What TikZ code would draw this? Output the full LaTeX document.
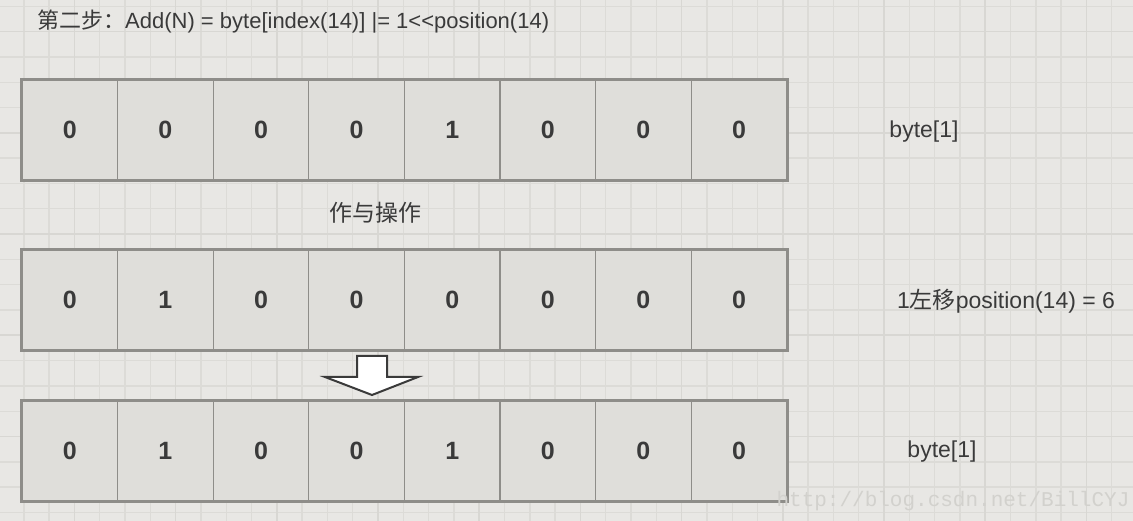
\documentclass[tikz,border=0pt]{standalone}
\usepackage{fontspec}
\setmainfont{Liberation Sans}
\setmonofont{Liberation Mono}
\newfontfamily\cjk{Noto Sans CJK SC}
\usetikzlibrary{positioning}

\definecolor{paper}{HTML}{E8E7E4}
\definecolor{minor line}{HTML}{DCDBD7}
\definecolor{major line}{HTML}{D8D7D3}
\definecolor{cell area}{HTML}{DFDEDA}
\definecolor{cell edge}{HTML}{8E8D89}
\definecolor{ink}{HTML}{3A3A3A}
\definecolor{mark ink}{HTML}{D2D1CD}
\def\paperbox{(0,0) rectangle (1133,521)}
\tikzset{cell/.style={draw=cell edge, line width=1.2pt, fill=cell area, inner sep=0pt,
        minimum width=95.6pt, minimum height=100pt, text=ink,
        font=\bfseries\fontsize{25}{25}\selectfont},
    frame/.style={draw=cell edge, line width=3pt},
    label/.style={text=ink, inner sep=0pt, font=\fontsize{23}{23}\selectfont},
    blockarrow/.style={draw=ink, fill=white, line width=2pt, line join=miter}}

\begin{document}
\begin{tikzpicture}[x=1pt, y=-1pt]
    \useasboundingbox \paperbox;
    \fill[paper] \paperbox;
    \begin{scope}
        \clip \paperbox;
        \foreach \x in {23.8,49.1,...,1140} \draw[minor line, line width=1.4pt] (\x,0) -- (\x,521);
        \foreach \y in {6.4,31.7,...,530} \draw[minor line, line width=1.4pt] (0,\y) -- (1133,\y);
        \foreach \x in {74.4,175.6,...,1140} \draw[major line, line width=1.6pt] (\x,0) -- (\x,521);
        \foreach \y in {31.7,132.9,...,530} \draw[major line, line width=1.6pt] (0,\y) -- (1133,\y);
    \end{scope}

    \node[label, anchor=west, font=\fontsize{22}{22}\selectfont] (title) at (37,22)
        {{\cjk 第二步：}Add(N) = byte[index(14)] |= 1{<}{<}position(14)};

    % byte[1]
    \foreach \v [count=\i] in {0,0,0,0,1,0,0,0}
        \node[cell] (a\i) at (-25.8+95.6*\i, 130) {\v};
    \draw[frame] (a1.north west) rectangle (a8.south east);
    \node[label] (abyte) at (924,132) {byte[1]};

    \node[label] (andop) at (375,213) {\cjk 作与操作};

    % 1 << position
    \foreach \v [count=\i] in {0,1,0,0,0,0,0,0}
        \node[cell] (b\i) at (-25.8+95.6*\i, 300) {\v};
    \draw[frame] (b1.north west) rectangle (b8.south east);
    \node[label] (bshift) at (1006,301) {1{\cjk 左移}position(14) = 6};

    \draw[blockarrow] (357,356) -- (387,356) -- (387,377) -- (418,377) -- (372,395)
        -- (325,377) -- (357,377) -- cycle;

    % result
    \foreach \v [count=\i] in {0,1,0,0,1,0,0,0}
        \node[cell] (c\i) at (-25.8+95.6*\i, 451) {\v};
    \draw[frame] (c1.north west) rectangle (c8.south east);
    \node[label] (cbyte) at (942,452) {byte[1]};

    \node[text=mark ink, inner sep=0pt, font=\ttfamily\fontsize{21}{21}\selectfont] (mark) at (953,501) {http://blog.csdn.net/BillCYJ};
\end{tikzpicture}
\end{document}
